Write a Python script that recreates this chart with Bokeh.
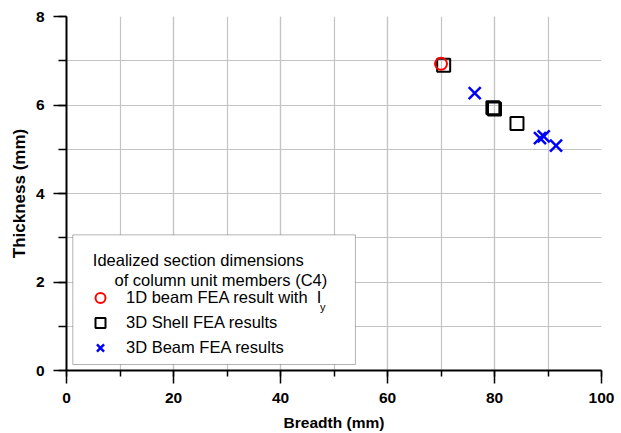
from bokeh.plotting import figure
from bokeh.models import (SingleIntervalTicker, Range1d, Legend, LegendItem,
                          BoxAnnotation, Label)
from bokeh.embed import file_html
from bokeh.resources import INLINE

FONT = "Liberation Sans"

# ---- data ----
beam1d_breadth = [70.0]
beam1d_thickness = [6.93]
shell_breadth = [70.5, 79.7, 80.0, 84.2]
shell_thickness = [6.90, 5.94, 5.91, 5.58]
beam3d_breadth = [76.3, 88.5, 89.2, 91.5]
beam3d_thickness = [6.27, 5.25, 5.29, 5.08]

x_label = "Breadth (mm)"
y_label = "Thickness (mm)"
legend_title = ["Idealized section dimensions", "of column unit members (C4)"]
series_labels = ["1D beam FEA result with\u00a0\u00a0I", "3D Shell FEA results", "3D Beam FEA results"]
subscript = "y"

p = figure(width=621, height=433, x_range=Range1d(0, 100), y_range=Range1d(0, 8),
           output_backend="svg", toolbar_location=None,
           min_border_left=66, min_border_right=20, min_border_top=16, min_border_bottom=62)
p.outline_line_color = None
p.background_fill_color = "white"
p.border_fill_color = "white"

p.xaxis.ticker = SingleIntervalTicker(interval=20, num_minor_ticks=2)
p.yaxis.ticker = SingleIntervalTicker(interval=2, num_minor_ticks=2)
p.xaxis.axis_label = x_label
p.yaxis.axis_label = y_label

for ax in (p.xaxis, p.yaxis):
    ax.axis_line_color = "black"
    ax.axis_line_width = 2
    ax.major_tick_line_color = "black"
    ax.major_tick_line_width = 1.5
    ax.minor_tick_line_color = "black"
    ax.minor_tick_line_width = 1.5
    ax.major_tick_in = 0
    ax.major_tick_out = 13
    ax.minor_tick_in = 0
    ax.major_label_text_font = FONT
    ax.major_label_text_font_size = "15.5px"
    ax.major_label_text_font_style = "bold"
    ax.major_label_text_color = "black"
    ax.axis_label_text_font = FONT
    ax.axis_label_text_font_style = "bold"
    ax.axis_label_text_color = "black"
p.xaxis.axis_label_text_font_size = "15.5px"
p.yaxis.axis_label_text_font_size = "17px"
p.xaxis.minor_tick_out = 6
p.yaxis.minor_tick_out = 8
p.xaxis.major_label_standoff = 9
p.yaxis.major_label_standoff = 9
p.xaxis.axis_label_standoff = 8
p.yaxis.axis_label_standoff = 4

for g in (p.xgrid, p.ygrid):
    g.grid_line_color = "#c4c4c4"
    g.grid_line_width = 1.2
    g.minor_grid_line_color = "#c4c4c4"
    g.minor_grid_line_width = 1.2

r1 = p.scatter(beam1d_breadth, beam1d_thickness, marker="circle", size=12,
               fill_color=None, line_color="red", line_width=2)
r2 = p.scatter(shell_breadth, shell_thickness, marker="square", size=13,
               fill_color=None, line_color="black", line_width=2)
r3 = p.scatter(beam3d_breadth, beam3d_thickness, marker="x", size=17,
               line_color="blue", line_width=2.5)
p.renderers = [r2, r1, r3]

box = BoxAnnotation(left=1.18, right=54.0, bottom=0.135, top=3.065,
                    fill_color="white", fill_alpha=1.0,
                    line_color="black", line_width=1)
p.add_layout(box)

p.add_layout(Label(x=4.92, y=2.50, text=legend_title[0], text_font=FONT,
                   text_font_size="16.5px", text_color="black", text_baseline="alphabetic"))
p.add_layout(Label(x=8.97, y=2.04, text=legend_title[1], text_font=FONT,
                   text_font_size="16.5px", text_color="black", text_baseline="alphabetic"))

legend = Legend(items=[LegendItem(label=series_labels[0], renderers=[r1]),
                       LegendItem(label=series_labels[1], renderers=[r2]),
                       LegendItem(label=series_labels[2], renderers=[r3])],
                location=(21, 10), padding=0, margin=0, spacing=0,
                glyph_width=26, glyph_height=25, label_height=25, label_standoff=13,
                border_line_color=None, background_fill_alpha=0,
                label_text_font=FONT, label_text_font_size="16.5px",
                label_text_color="black")
p.add_layout(legend)

p.add_layout(Label(x=47.4, y=1.43, text=subscript, text_font=FONT,
                   text_font_size="11px", text_color="black", text_baseline="alphabetic"))

open("out.html", "w").write(file_html(p, INLINE))
